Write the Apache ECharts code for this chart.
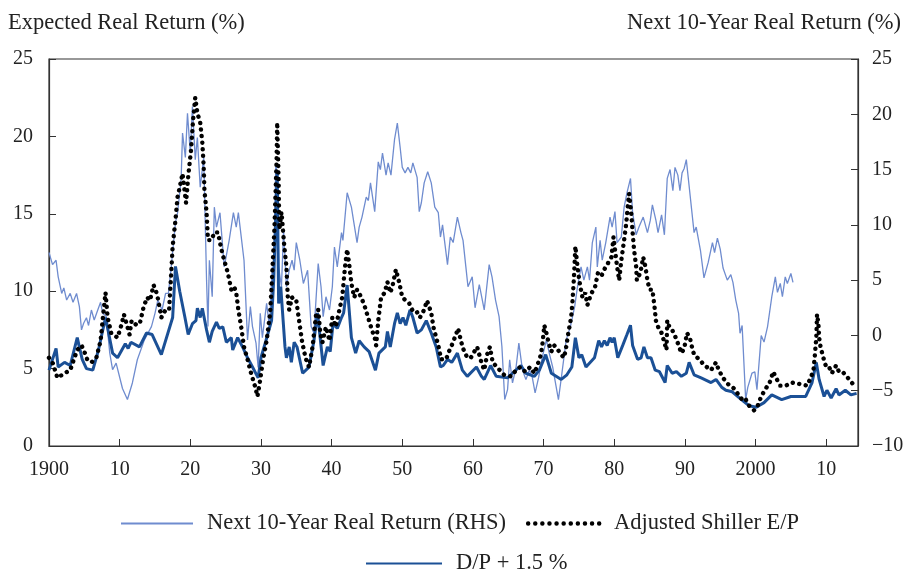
<!DOCTYPE html>
<html>
<head>
    <meta charset="utf-8" />
    <title>Expected vs Next 10-Year Real Return</title>
    <style>
        html, body { margin: 0; padding: 0; background: #fff; }
        #chart { width: 908px; height: 572px; }
    </style>
</head>
<body>
    <div id="chart"></div>
    <script src="https://cdn.jsdelivr.net/npm/echarts@6/dist/echarts.min.js"></script>
    <script>
        // [year, %] pairs
        var next10yr = [[1900,7.5],[1900.5,6.4],[1901,6.8],[1901.3,5.3],[1901.8,3.8],[1902.1,4.3],[1902.5,3.2],[1903,3.8],[1903.4,3.0],[1903.9,3.8],[1904.3,2.6],[1904.6,0.5],[1904.9,1.1],[1905.3,1.6],[1905.6,0.9],[1906,2.3],[1906.4,1.4],[1906.9,2.3],[1907.3,3.0],[1907.6,2.0],[1908.1,1.7],[1908.6,-1.6],[1909,-3.1],[1909.5,-2.5],[1910.4,-4.8],[1911.1,-5.8],[1911.8,-4.3],[1912.5,-2.2],[1913.5,-0.4],[1914.5,0.8],[1915,2.0],[1915.4,3.2],[1916,2.3],[1916.5,3.8],[1916.9,3.8],[1917.3,6.2],[1917.9,10.2],[1918.2,11.1],[1918.7,14.1],[1918.9,18.3],[1919.3,16.1],[1919.6,20.1],[1920,16.5],[1920.3,20.7],[1920.7,15.9],[1921,17.9],[1921.4,13.4],[1921.9,16.1],[1922.3,5.0],[1922.5,0.8],[1922.7,6.8],[1923.1,3.5],[1923.4,11.6],[1923.7,9.8],[1924.2,11.1],[1924.8,6.2],[1925.5,8.6],[1926.1,11.1],[1926.5,9.8],[1926.8,11.1],[1927.6,6.8],[1928.1,-0.4],[1928.5,2.6],[1928.8,0.8],[1929.3,-0.7],[1929.6,-2.9],[1929.9,2.0],[1930.2,-0.2],[1930.8,2.9],[1931.2,0.8],[1931.6,6.2],[1931.8,5.0],[1932.1,15.6],[1932.3,14.6],[1932.5,6.2],[1932.9,4.4],[1933.2,9.5],[1933.6,4.4],[1934,5.9],[1934.4,6.8],[1934.7,5.9],[1935,8.4],[1935.5,6.8],[1936,4.7],[1936.6,5.9],[1937.1,0.8],[1937.5,0.2],[1938.1,6.5],[1938.5,4.4],[1938.8,1.7],[1939.2,3.5],[1939.7,2.3],[1940.1,4.4],[1940.4,8.0],[1940.8,6.2],[1941.4,9.3],[1941.6,8.6],[1942.2,12.9],[1942.8,11.6],[1943.6,8.4],[1943.9,9.8],[1944.3,10.7],[1944.9,12.5],[1945.2,12.2],[1945.5,13.8],[1946.1,11.2],[1946.6,15.7],[1946.9,15.0],[1947.2,16.5],[1947.7,14.5],[1948,15.6],[1948.4,14.5],[1948.9,17.7],[1949.3,19.2],[1949.7,17.0],[1950,15.2],[1950.4,14.7],[1950.8,15.2],[1951.2,14.7],[1951.5,15.6],[1952.1,14.3],[1952.4,11.2],[1952.7,12.0],[1953.1,13.8],[1953.6,14.8],[1954.1,13.8],[1954.6,11.6],[1955.1,11.1],[1955.4,8.9],[1955.7,10.0],[1956.4,6.4],[1956.8,8.9],[1957.2,8.4],[1957.8,10.7],[1958.3,9.3],[1958.6,8.6],[1959,6.2],[1959.3,4.4],[1959.9,5.3],[1960.3,2.5],[1960.9,4.6],[1961.6,2.3],[1962.3,6.4],[1962.7,5.3],[1963.2,3.2],[1963.7,1.7],[1964.1,-1.0],[1964.5,-5.8],[1964.9,-4.9],[1965.2,-2.2],[1965.6,-4.3],[1966.1,-2.9],[1966.5,-0.7],[1967,-3.1],[1967.5,-4.0],[1968,-3.1],[1968.4,-3.8],[1968.8,-5.2],[1969.3,-3.8],[1969.8,-2.0],[1970.4,-0.4],[1970.8,-1.6],[1971.3,-2.9],[1971.6,-4.0],[1972.1,-5.8],[1972.6,-3.4],[1973.2,-0.4],[1973.8,0.8],[1974.4,2.6],[1974.8,4.4],[1975.3,6.2],[1975.7,5.0],[1976.2,6.2],[1976.5,5.0],[1976.9,8.4],[1977.4,9.8],[1977.6,6.2],[1978,8.6],[1978.3,6.8],[1978.8,8.4],[1979.4,10.7],[1979.7,9.8],[1980.1,11.2],[1980.4,8.4],[1981,8.9],[1981.4,11.6],[1981.8,12.9],[1982.3,14.2],[1982.6,11.1],[1983.1,9.1],[1983.5,9.8],[1984.1,10.7],[1984.7,9.3],[1985.1,10.4],[1985.4,11.8],[1985.9,10.4],[1986.2,9.3],[1986.7,10.9],[1987.1,9.1],[1987.5,14.2],[1987.9,15.0],[1988.3,13.1],[1988.6,15.2],[1989,14.5],[1989.3,13.1],[1989.6,14.7],[1989.9,15.1],[1990.2,15.9],[1990.7,12.9],[1991.3,9.3],[1991.6,9.8],[1992.2,7.7],[1992.7,5.2],[1993.3,6.6],[1993.9,8.4],[1994.2,7.5],[1994.6,8.8],[1995,7.8],[1995.4,6.1],[1996,5.0],[1996.5,5.5],[1996.8,4.8],[1997.2,3.2],[1997.6,2.0],[1997.8,0.2],[1998.1,0.9],[1998.6,-5.8],[1998.9,-4.7],[1999.5,-3.4],[1999.9,-3.3],[2000.2,-4.9],[2000.8,0.0],[2001.2,-0.6],[2001.7,0.8],[2001.9,0.9],[2002.3,3.5],[2002.8,5.3],[2003.1,3.9],[2003.5,4.7],[2003.8,3.5],[2004.2,5.3],[2004.5,4.7],[2005,5.6],[2005.3,4.8]];

        var shillerEP = [[1900,5.7],[1900.5,5.4],[1901.2,4.4],[1902.2,4.7],[1903,4.9],[1903.6,5.7],[1904,6.2],[1904.6,6.5],[1905,6.1],[1905.4,5.6],[1906,5.4],[1906.7,5.7],[1907.3,6.8],[1907.7,8.6],[1908,9.9],[1908.3,8.3],[1908.8,7.3],[1909.7,7.0],[1910.3,7.9],[1910.6,8.5],[1911.1,7.7],[1911.4,7.2],[1911.7,8.1],[1912.4,7.8],[1912.9,8.0],[1913.4,9.0],[1913.9,9.6],[1914.3,9.4],[1914.8,10.4],[1915.3,9.8],[1915.9,8.3],[1916.5,8.8],[1917,8.8],[1917.3,11.2],[1917.5,12.9],[1917.9,14.6],[1918.2,16.1],[1918.5,16.7],[1918.9,17.6],[1919.4,15.7],[1919.7,17.4],[1920.1,19.1],[1920.4,21.1],[1920.7,22.5],[1921,21.5],[1921.4,20.9],[1921.7,19.6],[1921.9,18.0],[1922,16.5],[1922.3,15.1],[1922.5,13.3],[1923,13.3],[1923.4,13.8],[1923.9,13.8],[1924.4,12.7],[1924.8,12.0],[1925.3,11.2],[1925.8,10.1],[1926.2,10.3],[1926.5,9.9],[1926.8,8.8],[1927.2,7.7],[1927.6,6.4],[1928.1,5.6],[1928.6,4.7],[1929.2,3.8],[1929.5,3.2],[1929.9,4.3],[1930.3,5.6],[1930.8,6.8],[1931.3,8.6],[1931.6,11.2],[1931.9,14.0],[1932.2,18.3],[1932.3,20.9],[1932.5,17.2],[1932.6,14.0],[1932.9,15.1],[1933,14.6],[1933.3,12.9],[1933.6,11.6],[1933.8,9.6],[1934,8.8],[1934.4,9.6],[1934.7,9.4],[1935,9.4],[1935.4,8.1],[1935.8,6.8],[1936.3,5.7],[1936.8,5.1],[1937.3,6.4],[1937.8,8.5],[1938.1,8.8],[1938.4,7.3],[1938.7,6.7],[1939.2,7.7],[1939.7,6.8],[1940.1,8.3],[1940.6,7.7],[1941.1,8.8],[1941.5,9.6],[1941.9,11.6],[1942.2,12.7],[1942.5,11.7],[1942.8,10.5],[1943.2,9.6],[1943.6,10.1],[1944.2,9.6],[1944.7,9.0],[1945.3,8.1],[1945.7,7.5],[1946.1,7.0],[1946.3,6.5],[1946.6,8.1],[1947,9.6],[1947.5,9.9],[1947.9,10.6],[1948.3,9.9],[1948.6,10.3],[1949.1,11.4],[1949.6,10.5],[1950,9.6],[1950.5,9.4],[1951,9.2],[1951.4,8.8],[1951.9,8.8],[1952.5,8.3],[1953.1,8.8],[1953.5,9.4],[1954.1,8.6],[1954.4,7.7],[1954.8,7.0],[1955.1,6.5],[1955.5,5.6],[1956.2,5.6],[1956.6,6.1],[1957,6.5],[1957.6,7.2],[1957.9,7.6],[1958.3,6.8],[1958.6,6.3],[1959.2,5.7],[1959.7,5.7],[1960.2,6.1],[1960.6,6.4],[1961.2,5.4],[1961.6,4.9],[1962,5.9],[1962.4,6.4],[1962.8,5.4],[1963.6,5.0],[1964.4,4.6],[1965.4,4.5],[1966.1,4.9],[1966.7,5.1],[1967.4,4.8],[1968.1,5.1],[1968.7,4.7],[1969.1,5.2],[1969.5,5.7],[1969.8,6.4],[1970.1,7.8],[1970.4,7.3],[1970.7,6.7],[1971.1,6.1],[1971.5,6.5],[1971.9,6.3],[1972.5,5.9],[1972.9,5.7],[1973.2,6.4],[1973.5,7.3],[1973.9,8.3],[1974.1,9.4],[1974.3,10.9],[1974.5,12.9],[1974.7,12.0],[1974.9,11.2],[1975.2,10.3],[1975.5,9.6],[1975.9,9.9],[1976.2,9.1],[1976.7,9.8],[1977.3,10.3],[1977.7,11.2],[1978.2,11.0],[1978.7,11.5],[1979.1,11.8],[1979.6,12.2],[1979.9,13.5],[1980.1,12.7],[1980.4,11.6],[1980.7,10.7],[1981,12.0],[1981.4,13.3],[1981.7,14.4],[1981.9,15.4],[1982.1,16.3],[1982.4,15.1],[1982.6,13.8],[1982.8,12.7],[1983.1,11.6],[1983.2,10.7],[1983.7,11.2],[1984.1,12.2],[1984.4,11.6],[1984.7,10.7],[1985,10.1],[1985.4,10.1],[1985.7,9.0],[1985.9,8.1],[1986.2,7.7],[1986.7,7.3],[1987.1,6.7],[1987.4,6.2],[1987.5,8.1],[1987.8,7.7],[1988.2,7.5],[1988.7,7.0],[1989.2,6.4],[1989.5,6.0],[1989.9,6.3],[1990.3,7.3],[1990.7,7.0],[1991,6.4],[1991.3,5.9],[1992,5.6],[1992.8,5.2],[1993.7,4.9],[1994.4,5.4],[1994.8,4.9],[1995.4,4.4],[1996.1,4.0],[1997,3.7],[1997.6,3.3],[1998.1,3.0],[1998.5,3.1],[1999.1,2.6],[1999.8,2.3],[2000.3,2.6],[2000.8,3.2],[2001.3,3.6],[2002,4.1],[2002.5,4.8],[2002.9,4.4],[2003.5,3.9],[2004.3,3.9],[2005.1,4.1],[2006.3,4.0],[2007.3,3.9],[2007.8,4.4],[2008.2,4.9],[2008.4,5.9],[2008.6,7.0],[2008.7,8.5],[2008.9,7.9],[2009,7.0],[2009.2,6.4],[2009.6,5.7],[2010,5.1],[2010.4,5.1],[2010.8,4.7],[2011.4,5.2],[2011.8,4.8],[2012.3,4.8],[2012.9,4.5],[2013.6,4.1],[2014.2,3.8]];

        var dpPlus15 = [[1900,4.9],[1901,6.3],[1901.3,5.1],[1902.2,5.4],[1903,5.2],[1904,7.0],[1904.7,5.6],[1905.3,5.0],[1906.2,4.9],[1907,6.2],[1908,8.3],[1909,6.0],[1909.7,5.7],[1910.8,6.6],[1911.2,6.3],[1911.6,6.7],[1912.8,6.4],[1913.8,7.3],[1914.6,7.2],[1915.9,5.9],[1917.5,8.3],[1917.9,11.6],[1918.5,10.0],[1919.2,8.4],[1919.7,7.2],[1920.3,7.9],[1920.8,8.1],[1921,8.9],[1921.4,8.3],[1921.7,8.9],[1922.3,7.5],[1922.7,6.7],[1923.1,7.4],[1923.7,8.0],[1924.1,7.6],[1924.6,7.7],[1925.1,6.7],[1925.8,7.0],[1926,6.2],[1926.7,7.0],[1927.4,6.4],[1928.1,5.7],[1928.8,5.1],[1929.6,4.4],[1930,5.7],[1930.7,6.8],[1931.5,8.1],[1931.8,10.7],[1932.3,17.8],[1932.5,9.2],[1932.8,10.3],[1933,10.2],[1933.4,6.4],[1933.6,5.7],[1934,6.4],[1934.3,5.4],[1934.7,6.7],[1935.1,6.4],[1935.9,4.7],[1936.8,5.1],[1937.5,6.8],[1938,8.6],[1938.8,5.2],[1939.4,6.4],[1939.8,6.1],[1940.2,7.9],[1940.8,7.6],[1941.4,8.3],[1941.7,8.6],[1942.2,10.4],[1942.8,7.0],[1943.4,6.0],[1943.9,6.8],[1944.6,6.4],[1945.3,6.1],[1946.2,4.9],[1946.7,6.0],[1947.6,6.4],[1947.9,7.4],[1948.3,6.4],[1948.9,7.9],[1949.3,8.6],[1949.7,7.9],[1950.1,8.3],[1950.5,7.8],[1951.1,8.8],[1951.5,8.3],[1952.1,7.3],[1952.7,7.5],[1953.4,8.1],[1954.1,7.3],[1954.8,6.4],[1955.4,5.1],[1955.8,5.2],[1956.4,5.6],[1957,5.4],[1957.8,6.0],[1958.5,4.9],[1959.2,4.5],[1960.5,5.1],[1961.2,4.5],[1961.6,4.3],[1962.5,5.2],[1963.3,4.5],[1964.9,4.4],[1965.6,4.7],[1966.8,5.2],[1967.5,4.7],[1968.7,4.5],[1969.4,4.9],[1970.3,5.9],[1971.1,4.7],[1972.5,4.3],[1973.3,4.6],[1974,5.1],[1974.5,7.0],[1975,5.7],[1975.4,5.9],[1976,5.1],[1977.2,5.7],[1977.8,6.8],[1978.2,6.4],[1978.6,6.8],[1979,6.5],[1979.4,7.0],[1979.7,6.7],[1980,7.0],[1980.5,5.7],[1981.2,6.5],[1981.8,7.2],[1982.3,7.8],[1982.6,6.5],[1983.3,5.6],[1983.8,5.7],[1984.2,6.4],[1984.7,5.7],[1985.2,5.7],[1985.8,4.9],[1986.4,4.8],[1987.2,4.1],[1987.5,5.2],[1988.2,4.7],[1988.8,4.8],[1989.5,4.5],[1990.2,4.7],[1990.6,5.4],[1991.3,4.6],[1992.3,4.4],[1993.7,4.1],[1994.4,4.3],[1995.2,3.8],[1995.8,3.6],[1996.7,3.5],[1998,3.0],[1999.1,2.6],[2000.1,2.5],[2001.2,2.8],[2002.3,3.3],[2003.7,3.0],[2005,3.2],[2006.2,3.2],[2007.1,3.2],[2008,4.1],[2008.6,5.4],[2009,4.3],[2009.7,3.2],[2010.1,3.6],[2010.7,3.1],[2011.4,3.7],[2011.8,3.3],[2012.7,3.6],[2013.5,3.3],[2014.3,3.4]];

        var seriesNames = ['Next 10-Year Real Return (RHS)', 'Adjusted Shiller E/P', 'D/P + 1.5 %'];
        var leftTitle = 'Expected Real Return (%)';
        var rightTitle = 'Next 10-Year Real Return (%)';

        var FONT = '"Liberation Serif", "DejaVu Serif", serif';
        var TXT = '#222';

        function minus(v) {
            return v < 0 ? '\u2212' + Math.abs(v) : String(v);
        }

        var legendText = { fontFamily: FONT, fontSize: 22.5, color: TXT, padding: [0, 0, 0, 9] };

        var option = {
            backgroundColor: '#fff',
            animation: false,
            textStyle: { fontFamily: FONT, color: TXT },
            title: [
                { text: leftTitle, left: 3, top: 7, textStyle: { fontFamily: FONT, fontSize: 22.5, fontWeight: 'normal', color: TXT } },
                { text: rightTitle, right: 2, top: 7, textStyle: { fontFamily: FONT, fontSize: 22.5, fontWeight: 'normal', color: TXT } }
            ],
            legend: [{
                data: [
                    seriesNames[0],
                    { name: seriesNames[1], lineStyle: { width: 4.4, type: [0.1, 7], cap: 'round', color: '#000' } }
                ],
                top: 507,
                left: 115,
                itemWidth: 72,
                itemHeight: 16,
                itemGap: 20,
                itemStyle: { opacity: 0 },
                textStyle: legendText
            }, {
                data: [seriesNames[2]],
                top: 547,
                left: 360,
                itemWidth: 76,
                itemHeight: 16,
                itemStyle: { opacity: 0 },
                textStyle: legendText
            }],
            grid: {
                left: 49,
                right: 50,
                top: 59,
                bottom: 126,
                show: true,
                borderColor: '#333',
                borderWidth: 1.2
            },
            xAxis: {
                type: 'value',
                min: 1900,
                max: 2014.5,
                interval: 10,
                axisLine: { lineStyle: { color: '#333', width: 1.2 } },
                axisTick: { inside: true, length: 7, lineStyle: { color: '#333' } },
                splitLine: { show: false },
                axisLabel: {
                    margin: 14,
                    fontFamily: FONT,
                    fontSize: 20,
                    color: TXT,
                    showMaxLabel: false,
                    formatter: function (v) {
                        if (v % 100 === 0) return String(v);
                        return String(v % 100);
                    }
                }
            },
            yAxis: [{
                type: 'value',
                min: 0,
                max: 25,
                interval: 5,
                axisLine: { show: true, lineStyle: { color: '#333', width: 1.2 } },
                axisTick: { show: true, inside: true, length: 7, lineStyle: { color: '#333' } },
                splitLine: { show: false },
                axisLabel: { margin: 16, fontFamily: FONT, fontSize: 20, color: TXT }
            }, {
                type: 'value',
                min: -10,
                max: 25,
                interval: 5,
                position: 'right',
                axisLine: { show: true, lineStyle: { color: '#333', width: 1.2 } },
                axisTick: { show: true, inside: true, length: 7, lineStyle: { color: '#333' } },
                splitLine: { show: false },
                axisLabel: { margin: 14, fontFamily: FONT, fontSize: 20, color: TXT, formatter: minus }
            }],
            series: [{
                name: seriesNames[0],
                type: 'line',
                yAxisIndex: 1,
                data: next10yr,
                symbol: 'none',
                lineStyle: { color: '#6f8ccf', width: 1.3 },
                itemStyle: { color: '#6f8ccf' }
            }, {
                name: seriesNames[2],
                type: 'line',
                yAxisIndex: 0,
                data: dpPlus15,
                symbol: 'none',
                lineStyle: { color: '#1b5096', width: 3 },
                itemStyle: { color: '#1b5096' }
            }, {
                name: seriesNames[1],
                type: 'line',
                yAxisIndex: 0,
                data: shillerEP,
                symbol: 'none',
                lineStyle: { color: '#000', width: 4.4, type: [0.1, 6.5], cap: 'round' },
                itemStyle: { color: '#000' }
            }]
        };

        var chart = echarts.init(document.getElementById('chart'));
        chart.setOption(option);
    </script>
</body>
</html>
